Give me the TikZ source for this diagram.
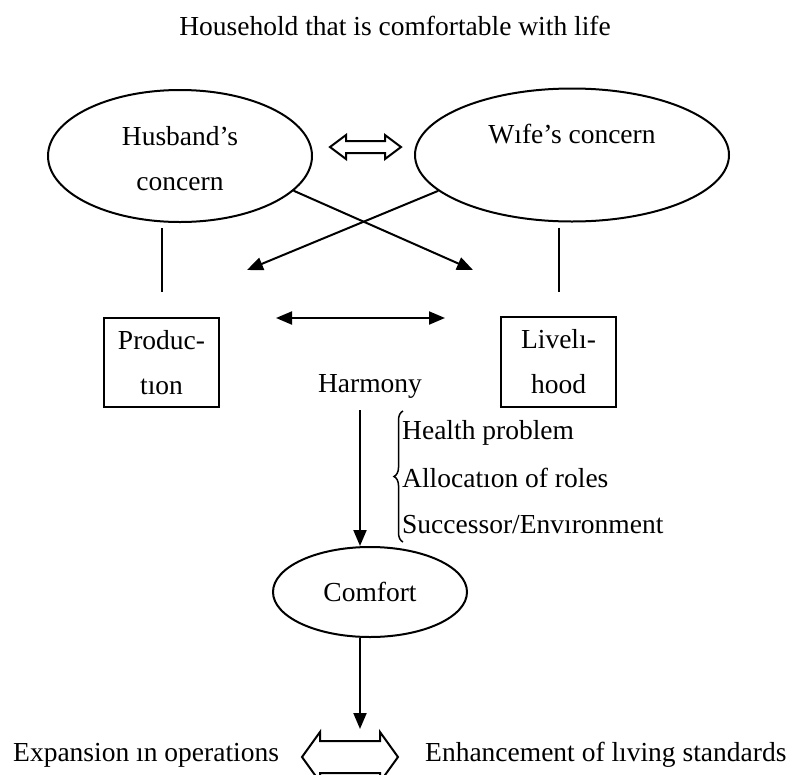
\documentclass[tikz,border=0pt]{standalone}
\usepackage{fontspec}
\setmainfont{Liberation Serif}
\usetikzlibrary{shapes.geometric,arrows.meta,decorations.pathreplacing}
\begin{document}
\begin{tikzpicture}[x=1pt,y=-1pt,
  every node/.style={font=\fontsize{27.5}{45}\selectfont, inner sep=0pt},
  ell/.style={draw, ellipse, line width=2pt},
  boxnode/.style={draw, rectangle, line width=2pt, align=center},
  conn/.style={line width=2pt},
  arr/.style={line width=2pt, -{Triangle[length=16pt,width=13pt]}},
  darr/.style={line width=2pt, {Triangle[length=16pt,width=13pt]}-{Triangle[length=16pt,width=13pt]}},
  hollow/.style={draw, line width=2pt, fill=white, line join=miter}
]
\useasboundingbox (0,0) rectangle (795,774);

% title
\node (title) at (395,26) {Household that is comfortable with life};

% ellipses
\node[ell, minimum width=264pt, minimum height=132pt] (husband) at (180,156) {};
\node[align=center] (husbandtext) at (180,159) {Husband’s\\concern};
\node[ell, minimum width=314pt, minimum height=133pt] (wife) at (572,155) {};
\node (wifetext) at (572,134) {Wıfe’s concern};

% hollow double arrow between ellipses
\path[hollow] (330,147) -- (346,135) -- (346,141) -- (385,141) -- (385,135)
  -- (401,147) -- (385,159) -- (385,153) -- (346,153) -- (346,159) -- cycle;

% boxes
\node[boxnode, minimum width=115pt, minimum height=89pt] (prod) at (161.5,362.5) {Produc-\\tıon};
\node[boxnode, minimum width=115pt, minimum height=90pt] (liv) at (558.5,362) {Livelı-\\hood};

% vertical connectors
\draw[conn, shorten <=5pt, shorten >=25pt] (prod.north |- husband.south) -- (prod.north);
\draw[conn, shorten <=5pt, shorten >=24pt] (liv.north |- wife.south) -- (liv.north);

% crossing arrows
\coordinate (tipR) at (473,270);
\coordinate (tipL) at (247,270);
\draw[arr] (husband.-17) -- (tipR);
\draw[arr] (wife.195) -- (tipL);

% horizontal double arrow
\coordinate (hl) at (276,318);
\coordinate (hr) at (445,318);
\draw[darr] (hl) -- (hr);

% harmony
\node (harmony) at (370,386) {Harmony};

% comfort
\node[ell, minimum width=194pt, minimum height=90pt] (comfort) at (370,592) {Comfort};

\coordinate (harmonyfoot) at (360,410);
\draw[arr] (harmonyfoot) -- (harmonyfoot |- comfort.north);

% brace and factors
\coordinate (braceb) at (403,542);
\coordinate (bracet) at (403,411);
\draw[line width=1.5pt, decorate, decoration={brace, amplitude=9pt}] (braceb) -- (bracet);
\node[anchor=west] (health) at (402,433) {Health problem};
\node[anchor=west] (alloc) at (402,478) {Allocatıon of roles};
\node[anchor=west] (succ) at (402,525) {Successor/Envıronment};

% arrow to outcomes
\coordinate (outtip) at (360,729);
\draw[arr] (harmonyfoot |- comfort.south) -- (outtip);

% bottom hollow double arrow
\path[hollow] (302,757) -- (320,732) -- (320,741) -- (380,741) -- (380,732)
  -- (398,757) -- (380,782) -- (380,773) -- (320,773) -- (320,782) -- cycle;

\node[anchor=west] (expansion) at (13,755) {Expansion ın operations};
\node[anchor=west] (enhance) at (425,755) {Enhancement of lıving standards};
\end{tikzpicture}
\end{document}
